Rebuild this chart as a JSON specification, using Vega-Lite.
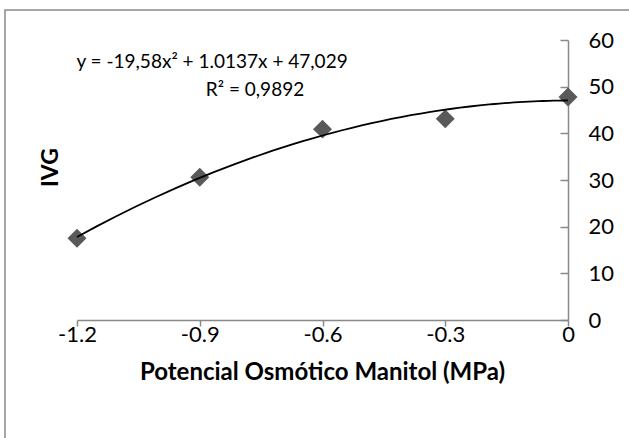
{
  "$schema": "https://vega.github.io/schema/vega-lite/v6.json",
  "width": 640,
  "height": 440,
  "autosize": "none",
  "padding": {"left": 5, "top": 10, "right": -16, "bottom": -12},
  "background": "white",
  "config": {
    "view": {"stroke": "#898989", "strokeWidth": 1.5},
    "font": "Lato",
    "axis": {"grid": false}
  },
  "data": {
    "values": [
      {"p": -1.2, "ivg": 17.5},
      {"p": -0.9, "ivg": 30.6},
      {"p": -0.6, "ivg": 40.9},
      {"p": -0.3, "ivg": 43.1},
      {"p": 0, "ivg": 47.8}
    ]
  },
  "layer": [
    {
      "mark": {"type": "point", "shape": "diamond", "filled": true, "color": "#595959", "opacity": 1, "size": 360},
      "encoding": {
        "x": {
          "field": "p",
          "type": "quantitative",
          "scale": {"domain": [-1.2, 0], "range": [72, 563], "nice": false, "zero": false},
          "axis": {
            "orient": "bottom",
            "offset": -130,
            "values": [-1.2, -0.9, -0.6, -0.3, 0],
            "labelExpr": "'' + datum.value",
            "domainColor": "#898989",
            "domainWidth": 1.5,
            "tickColor": "#898989",
            "tickWidth": 1.5,
            "tickSize": 6,
            "labelFontSize": 22,
            "labelColor": "black",
            "labelPadding": -2,
            "labelFlush": false,
            "title": "Potencial Osmótico Manitol (MPa)",
            "titleFontSize": 24,
            "titleFontWeight": "bold",
            "titleColor": "black",
            "titleX": 317,
            "titleY": 52,
            "titleAlign": "center",
            "titleBaseline": "middle"
          }
        },
        "y": {
          "field": "ivg",
          "type": "quantitative",
          "scale": {"domain": [0, 60], "range": [310, 30], "nice": false, "zero": false},
          "axis": {
            "orient": "right",
            "offset": -77,
            "values": [0, 10, 20, 30, 40, 50, 60],
            "domainColor": "#898989",
            "domainWidth": 1.5,
            "tickColor": "#898989",
            "tickWidth": 1.5,
            "tickSize": -8,
            "labelFontSize": 22,
            "labelColor": "black",
            "labelAlign": "left",
            "labelBaseline": "middle",
            "labelPadding": 28,
            "labelFlush": false,
            "title": "IVG",
            "titleFontSize": 23,
            "titleFontWeight": "bold",
            "titleColor": "black",
            "titleAngle": -90,
            "titleX": -518,
            "titleY": 157,
            "titleAlign": "center",
            "titleBaseline": "middle"
          }
        }
      }
    },
    {
      "transform": [
        {"regression": "ivg", "on": "p", "method": "poly", "order": 2}
      ],
      "mark": {"type": "line", "color": "black", "strokeWidth": 1.8},
      "encoding": {
        "x": {"field": "p", "type": "quantitative"},
        "y": {"field": "ivg", "type": "quantitative"}
      }
    },
    {
      "data": {"values": [{"eq": "y = -19,58x² + 1.0137x + 47,029", "r2": "R² = 0,9892"}]},
      "layer": [
        {
          "mark": {"type": "text", "fontSize": 19, "color": "black", "align": "center", "baseline": "middle"},
          "encoding": {
            "x": {"datum": -0.87},
            "y": {"datum": 55.3},
            "text": {"field": "eq"}
          }
        },
        {
          "mark": {"type": "text", "fontSize": 19, "color": "black", "align": "center", "baseline": "middle"},
          "encoding": {
            "x": {"datum": -0.765},
            "y": {"datum": 49.3},
            "text": {"field": "r2"}
          }
        }
      ]
    }
  ]
}
